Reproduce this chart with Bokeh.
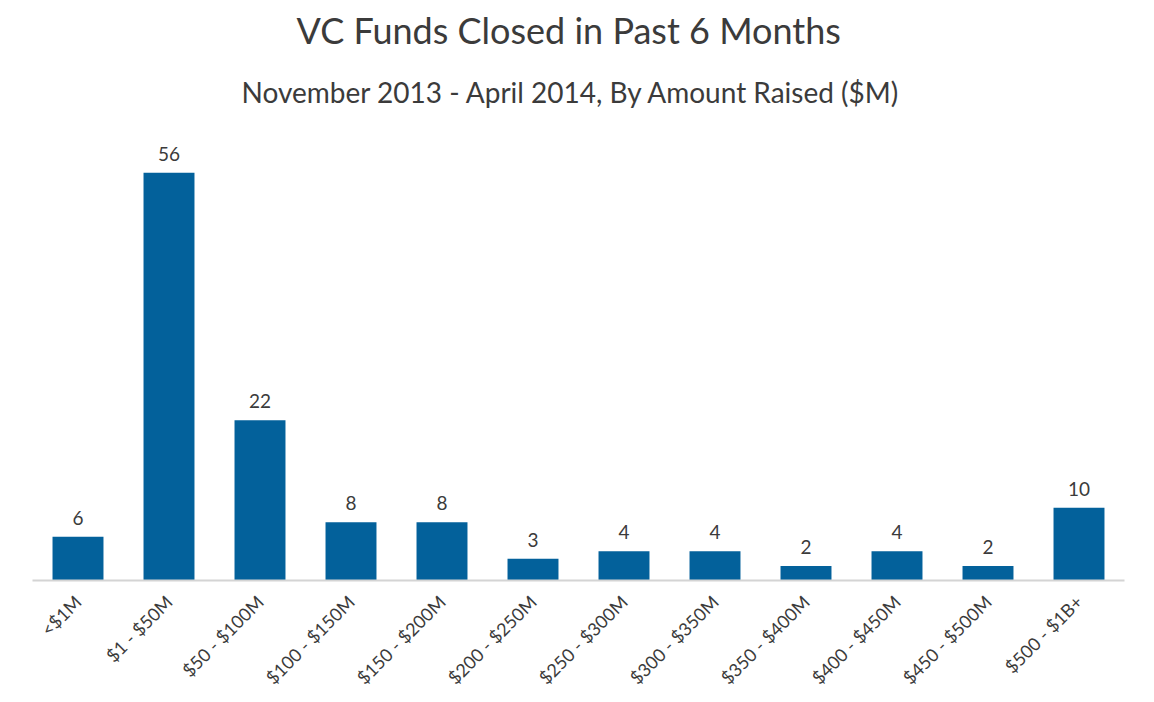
from bokeh.plotting import figure
from bokeh.models import ColumnDataSource, Title
from bokeh.core.properties import value
from bokeh.embed import file_html
from bokeh.resources import INLINE
import math

title_text = "VC Funds Closed in Past 6 Months"
subtitle_text = "November 2013 - April 2014, By Amount Raised ($M)"
categories = ["<$1M", "$1 - $50M", "$50 - $100M", "$100 - $150M", "$150 - $200M",
              "$200 - $250M", "$250 - $300M", "$300 - $350M", "$350 - $400M",
              "$400 - $450M", "$450 - $500M", "$500 - $1B+"]
counts = [6, 56, 22, 8, 8, 3, 4, 4, 2, 4, 2, 10]
labels = [str(c) for c in counts]

FONT = "Lato"
TEXT = "#3b3b3b"
BAR = "#03619b"

src = ColumnDataSource(dict(cat=categories, n=counts, lab=labels))

p = figure(x_range=categories, y_range=(0, 60), width=1146, height=700,
           output_backend="svg", toolbar_location=None,
           min_border_left=32, min_border_right=22, min_border_bottom=120,
           min_border_top=143)

p.add_layout(Title(text=subtitle_text,
                   align="left", text_font=FONT, text_font_size="28px",
                   text_font_style="normal", text_color=TEXT, standoff=70,
                   offset=209), "above")
p.add_layout(Title(text=title_text,
                   align="left", text_font=FONT, text_font_size="36px",
                   text_font_style="normal", text_color=TEXT, standoff=-29,
                   offset=264), "above")

p.vbar(x="cat", top="n", width=0.56, source=src, color=BAR, line_color=None)
p.text(x="cat", y="n", text="lab", source=src, y_offset=-12,
       text_align="center", text_baseline="bottom",
       text_font=value(FONT), text_font_size="19px", text_color=TEXT)

p.outline_line_color = None
p.xgrid.grid_line_color = None
p.ygrid.grid_line_color = None
p.yaxis.visible = False

ax = p.xaxis[0]
ax.axis_line_color = "#d4d4d4"
ax.axis_line_width = 2
ax.major_tick_line_color = None
ax.minor_tick_line_color = None
ax.major_label_orientation = math.pi / 4
ax.major_label_text_font = FONT
ax.major_label_text_font_size = "18px"
ax.major_label_text_color = TEXT
ax.major_label_standoff = 12

open("out.html", "w").write(file_html(p, INLINE))
